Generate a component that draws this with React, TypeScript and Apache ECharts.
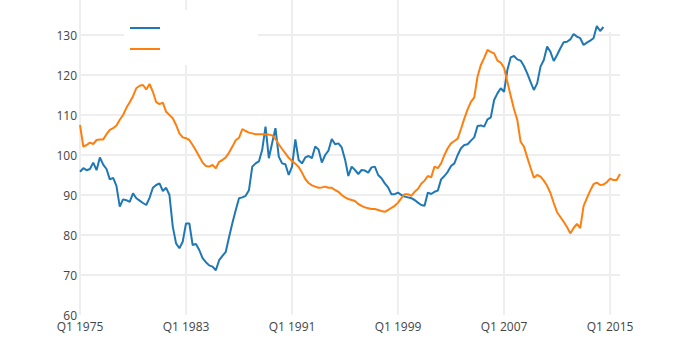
import React, { useEffect, useRef } from "react";
import * as echarts from "echarts";

// Quarterly categories Q1 1975 .. Q4 2015
const startYear = 1975;
const endYear = 2015;
const quarters: string[] = [];
for (let y = startYear; y <= endYear; y++) {
  for (let q = 1; q <= 4; q++) quarters.push(`Q${q} ${y}`);
}

const yTicks = { min: 60, max: 138.75, interval: 10 };

const blueSeries: (number | null)[] = [
  95.8, 96.7, 96.2, 96.5, 98.1, 96.2, 99.4, 97.6, 96.5, 93.9,
  94.3, 92.3, 87.1, 88.9, 88.7, 88.3, 90.4, 89.2, 88.6, 88.0,
  87.5, 89.3, 91.8, 92.5, 92.9, 91.0, 91.8, 90.0, 82.1, 77.9,
  76.7, 78.3, 82.9, 82.9, 77.5, 77.75, 76.25, 74.2, 73.2, 72.4,
  72.1, 71.2, 73.7, 74.8, 75.8, 79.5, 83.0, 86.2, 89.2, 89.4,
  89.8, 91.2, 97.1, 97.9, 98.4, 101.3, 107.1, 99.2, 103.0, 106.7,
  99.6, 97.9, 97.7, 95.0, 97.1, 103.9, 98.75, 97.9, 99.4, 99.75,
  99.2, 102.1, 101.4, 98.1, 100.0, 101.1, 104.0, 102.7, 102.9, 101.9,
  98.9, 94.75, 97.1, 96.25, 95.25, 96.25, 96.1, 95.6, 96.9, 97.1,
  95.0, 94.2, 92.9, 91.9, 90.2, 90.2, 90.6, 90.0, 89.6, 89.4,
  89.2, 88.75, 88.1, 87.5, 87.3, 90.6, 90.25, 90.8, 91.1, 93.9,
  94.75, 95.8, 97.25, 97.9, 100.0, 101.7, 102.5, 102.7, 103.6, 104.4,
  107.25, 107.4, 107.1, 108.9, 109.4, 113.75, 115.4, 116.7, 115.8, 121.25,
  124.4, 124.75, 123.9, 123.6, 122.25, 120.4, 118.3, 116.25, 117.9, 122.1,
  123.75, 127.1, 125.8, 123.5, 125.0, 126.7, 128.2, 128.3, 128.9, 130.25,
  129.6, 129.2, 127.5, 128.1, 128.6, 129.2, 132.25, 131.0, 132.0, null,
  null, null, null, null,
];

const orangeSeries: (number | null)[] = [
  107.5, 102.1, 102.5, 103.1, 102.75, 103.75, 103.9, 103.9, 105.2, 106.3,
  106.7, 107.4, 108.8, 110.0, 111.8, 113.2, 114.7, 116.7, 117.3, 117.5,
  116.4, 117.75, 115.8, 113.2, 112.7, 113.1, 110.8, 110.0, 109.2, 107.5,
  105.4, 104.4, 104.2, 103.75, 102.5, 101.1, 99.6, 98.1, 97.25, 97.1,
  97.5, 96.7, 98.3, 98.75, 99.4, 100.6, 102.1, 103.7, 104.3, 106.5,
  106.0, 105.6, 105.4, 105.2, 105.2, 105.2, 105.1, 105.1, 104.9, 104.0,
  102.7, 101.5, 100.4, 99.3, 98.5, 97.8, 97.0, 95.6, 94.0, 93.0,
  92.4, 92.1, 91.8, 91.9, 92.1, 91.8, 91.8, 91.25, 90.8, 90.0,
  89.4, 89.0, 88.75, 88.5, 87.75, 87.3, 86.9, 86.7, 86.5, 86.5,
  86.25, 86.0, 85.8, 86.25, 86.8, 87.3, 88.1, 89.2, 90.2, 90.2,
  89.8, 90.8, 91.5, 92.8, 93.6, 94.75, 94.4, 97.1, 96.7, 97.9,
  100.0, 101.7, 102.9, 103.5, 104.1, 106.5, 109.1, 111.4, 113.3, 114.4,
  119.6, 122.5, 124.3, 126.25, 125.8, 125.4, 123.6, 123.1, 121.8, 118.3,
  114.8, 111.5, 108.75, 103.3, 102.1, 99.4, 96.8, 94.3, 95.0, 94.6,
  93.6, 92.3, 90.5, 88.0, 85.7, 84.5, 83.3, 82.0, 80.4, 81.75,
  82.75, 81.75, 87.2, 89.2, 91.1, 92.7, 93.1, 92.5, 92.6, 93.2,
  94.1, 93.75, 93.75, 95.25,
];

const BLUE = "#1f77b4";
const ORANGE = "#ff7f0e";
const GRID = "#eeeeee";
const FONT = "'Open Sans', 'Noto Sans', sans-serif";

export default function App() {
  const ref = useRef<HTMLDivElement>(null);

  useEffect(() => {
    if (!ref.current) return;
    const chart = echarts.init(ref.current, undefined, { renderer: "svg" });
    // lines at 60,70,...,130 and the extra max tick: hide first and last
    const nLines = Math.floor((yTicks.max - yTicks.min) / yTicks.interval) + 2;
    const yLineColors = Array.from({ length: nLines }, (_, i) =>
      i === 0 || i === nLines - 1 ? "rgba(0,0,0,0)" : GRID
    );
    chart.setOption({
      animation: false,
      backgroundColor: "#ffffff",
      grid: { left: 80, right: 80, top: 0, bottom: 42, containLabel: false },
      xAxis: {
        type: "category",
        data: quarters,
        boundaryGap: false,
        axisLine: { show: false },
        axisTick: { show: false },
        axisLabel: {
          interval: (idx: number) => idx % 32 === 0,
          color: "#444",
          fontFamily: FONT,
          fontSize: 12,
          margin: 5,
        },
        splitLine: {
          show: true,
          interval: (idx: number) => idx % 32 === 0,
          lineStyle: { color: GRID, width: 2 },
        },
      },
      yAxis: {
        type: "value",
        min: yTicks.min,
        max: yTicks.max,
        interval: yTicks.interval,
        axisLine: { show: false },
        axisTick: { show: false },
        axisLabel: {
          showMaxLabel: false,
          color: "#444",
          fontFamily: FONT,
          fontSize: 12,
          margin: 3,
          formatter: (v: number) => (v % 10 === 0 ? String(v) : ""),
        },
        splitLine: {
          show: true,
          lineStyle: { color: yLineColors, width: 2 },
        },
      },
      graphic: [
        {
          type: "rect",
          z: 1,
          shape: { x: 124, y: 10, width: 134, height: 55 },
          style: { fill: "#ffffff" },
        },
        {
          type: "rect",
          z: 1,
          shape: { x: 604, y: 0, width: 24, height: 32, r: [0, 0, 0, 4] },
          style: { fill: "#ffffff" },
        },
        {
          type: "line",
          z: 3,
          shape: { x1: 130, y1: 28, x2: 160, y2: 28 },
          style: { stroke: BLUE, lineWidth: 2 },
        },
        {
          type: "line",
          z: 3,
          shape: { x1: 130, y1: 49, x2: 160, y2: 49 },
          style: { stroke: ORANGE, lineWidth: 2 },
        },
      ],
      series: [
        {
          type: "line",
          data: blueSeries,
          showSymbol: false,
          symbol: "none",
          lineStyle: { color: BLUE, width: 2 },
          itemStyle: { color: BLUE },
          connectNulls: false,
          z: 2,
        },
        {
          type: "line",
          data: orangeSeries,
          showSymbol: false,
          symbol: "none",
          lineStyle: { color: ORANGE, width: 2 },
          itemStyle: { color: ORANGE },
          z: 2,
        },
      ],
    });
    return () => chart.dispose();
  }, []);

  return (
    <div
      ref={ref}
      style={{ position: "fixed", left: 0, top: 0, width: 700, height: 357 }}
    />
  );
}
